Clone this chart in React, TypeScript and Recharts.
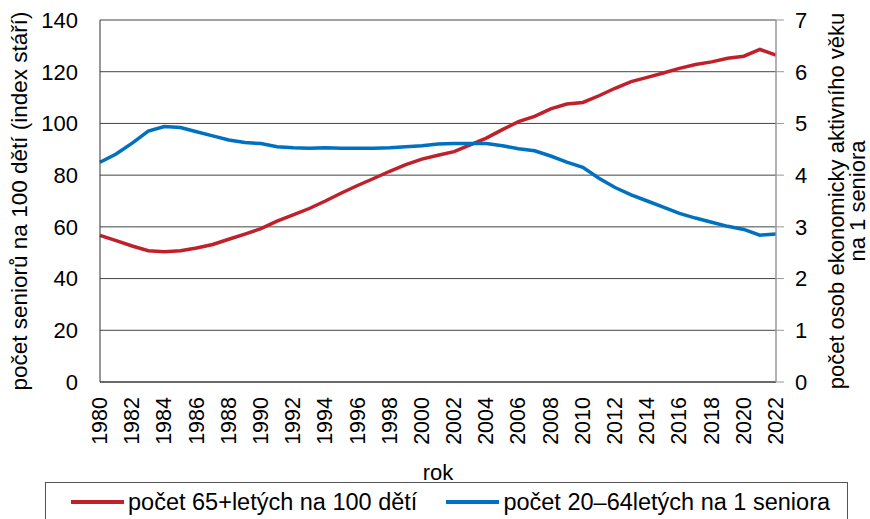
import React from 'react';
import { ComposedChart, Line, XAxis, YAxis, CartesianGrid, Legend } from 'recharts';

const years = [
  '1980','1981','1982','1983','1984','1985','1986','1987','1988','1989',
  '1990','1991','1992','1993','1994','1995','1996','1997','1998','1999',
  '2000','2001','2002','2003','2004','2005','2006','2007','2008','2009',
  '2010','2011','2012','2013','2014','2015','2016','2017','2018','2019',
  '2020','2021','2022',
];

const agingIndex = [
  56.7, 54.7, 52.6, 50.8, 50.4, 50.8, 51.8, 53.2, 55.2, 57.2,
  59.3, 62.2, 64.6, 67.1, 70.0, 73.1, 76.0, 78.7, 81.5, 84.1,
  86.2, 87.7, 89.1, 91.7, 94.3, 97.6, 100.7, 102.7, 105.6, 107.5,
  108.1, 110.7, 113.6, 116.2, 117.8, 119.5, 121.3, 122.8, 123.8, 125.2,
  126.0, 128.6, 126.4,
];

const workersPerSenior = [
  4.25, 4.41, 4.62, 4.85, 4.94, 4.92, 4.84, 4.76, 4.68, 4.63,
  4.61, 4.55, 4.53, 4.52, 4.53, 4.52, 4.52, 4.52, 4.53, 4.55,
  4.57, 4.60, 4.61, 4.61, 4.61, 4.57, 4.51, 4.47, 4.37, 4.25,
  4.15, 3.94, 3.76, 3.62, 3.50, 3.38, 3.26, 3.17, 3.09, 3.01,
  2.95, 2.84, 2.86,
];

const leftTicks = [0, 20, 40, 60, 80, 100, 120, 140];
const rightTicks = [0, 1, 2, 3, 4, 5, 6, 7];

const seriesNames = ['počet 65+letých na 100 dětí', 'počet 20–64letých na 1 seniora'];
const leftTitle = 'počet seniorů na 100 dětí (index stáří)';
const rightTitle1 = 'počet osob ekonomicky aktivního věku';
const rightTitle2 = 'na 1 seniora';
const xTitle = 'rok';

const data = years.map((y, i) => ({
  year: y,
  aging: agingIndex[i],
  workers: workersPerSenior[i],
}));

const FONT = '"Liberation Sans", Arial, sans-serif';
const RED = '#C0202A';
const BLUE = '#0070C0';

const XTick = (props: any) => {
  const { x, y, payload } = props;
  return (
    <text
      x={x}
      y={y}
      transform={`rotate(-90, ${x}, ${y})`}
      textAnchor="end"
      dominantBaseline="central"
      fontSize={21.5}
      fontFamily={FONT}
      fill="#000"
    >
      {payload.value}
    </text>
  );
};

const LegendContent = (props: any) => {
  const payload = [...(props.payload || [])].sort(
    (a: any, b: any) => seriesNames.indexOf(a.value) - seriesNames.indexOf(b.value)
  );
  return (
    <div
      style={{
        width: 803,
        height: 50,
        border: '1px solid #555',
        boxSizing: 'border-box',
        display: 'flex',
        alignItems: 'flex-start',
        paddingTop: 5,
        fontFamily: FONT,
        fontSize: 23.5,
        lineHeight: '28px',
        color: '#000',
        whiteSpace: 'nowrap',
      }}
    >
      {payload.map((p: any, i: number) => (
        <div key={i} style={{ display: 'flex', alignItems: 'center', marginLeft: i === 0 ? 25 : 29 }}>
          <div style={{ width: 53, height: 4, background: p.color, marginRight: 4 }} />
          <span>{p.value}</span>
        </div>
      ))}
    </div>
  );
};

export default function App() {
  return (
    <div style={{ position: 'absolute', left: 0, top: 0, width: 870, height: 519, background: '#fff', overflow: 'hidden' }}>
      <ComposedChart
        width={870}
        height={519}
        data={data}
        margin={{ top: 20, right: 34, bottom: 37, left: 40 }}
      >
        <CartesianGrid yAxisId="left" vertical={false} stroke="#444" strokeWidth={1} />
        <XAxis
          dataKey="year"
          interval={1}
          tick={<XTick />}
          tickLine={false}
          tickSize={0}
          tickMargin={15}
          height={100}
          axisLine={{ stroke: '#333', strokeWidth: 1 }}
          label={{
            content: (p: any) => {
              const vb = p.viewBox;
              return (
                <text
                  x={vb.x + vb.width / 2}
                  y={vb.y + 90}
                  textAnchor="middle"
                  dominantBaseline="central"
                  fontSize={22}
                  fontFamily={FONT}
                  fill="#000"
                >
                  {xTitle}
                </text>
              );
            },
          }}
        />
        <YAxis
          yAxisId="left"
          orientation="left"
          domain={[0, 140]}
          ticks={leftTicks}
          width={60}
          tickLine={false}
          tickSize={0}
          tickMargin={22}
          axisLine={{ stroke: '#333', strokeWidth: 1 }}
          tick={{ fontSize: 22, fontFamily: FONT, fill: '#000' }}
          label={{
            content: (p: any) => {
              const vb = p.viewBox;
              const cx = vb.x - 21;
              const cy = vb.y + vb.height / 2;
              return (
                <text
                  x={cx}
                  y={cy}
                  transform={`rotate(-90, ${cx}, ${cy})`}
                  textAnchor="middle"
                  dominantBaseline="central"
                  fontSize={22.5}
                  fontFamily={FONT}
                  fill="#000"
                >
                  {leftTitle}
                </text>
              );
            },
          }}
        />
        <YAxis
          yAxisId="right"
          orientation="right"
          domain={[0, 7]}
          ticks={rightTicks}
          width={60}
          tickSize={8}
          tickMargin={11}
          tickLine={{ stroke: '#999' }}
          axisLine={{ stroke: '#999', strokeWidth: 1.5 }}
          tick={{ fontSize: 22, fontFamily: FONT, fill: '#000' }}
          label={{
            content: (p: any) => {
              const vb = p.viewBox;
              const cy = vb.y + vb.height / 2;
              const x1 = vb.x + 60;
              const x2 = vb.x + 81;
              return (
                <g>
                  <text
                    x={x1}
                    y={cy}
                    transform={`rotate(-90, ${x1}, ${cy})`}
                    textAnchor="middle"
                    dominantBaseline="central"
                    fontSize={22}
                    fontFamily={FONT}
                    fill="#000"
                  >
                    {rightTitle1}
                  </text>
                  <text
                    x={x2}
                    y={cy}
                    transform={`rotate(-90, ${x2}, ${cy})`}
                    textAnchor="middle"
                    dominantBaseline="central"
                    fontSize={22}
                    fontFamily={FONT}
                    fill="#000"
                  >
                    {rightTitle2}
                  </text>
                </g>
              );
            },
          }}
        />
        <Line
          yAxisId="left"
          type="linear"
          dataKey="aging"
          name={seriesNames[0]}
          stroke={RED}
          strokeWidth={3.5}
          dot={false}
          isAnimationActive={false}
        />
        <Line
          yAxisId="right"
          type="linear"
          dataKey="workers"
          name={seriesNames[1]}
          stroke={BLUE}
          strokeWidth={3.5}
          dot={false}
          isAnimationActive={false}
        />
        <Legend
          layout="horizontal"
          verticalAlign="middle"
          align="center"
          content={<LegendContent />}
          wrapperStyle={{ position: 'absolute', left: 45, top: 482, width: 803, height: 50 }}
        />
      </ComposedChart>
    </div>
  );
}
